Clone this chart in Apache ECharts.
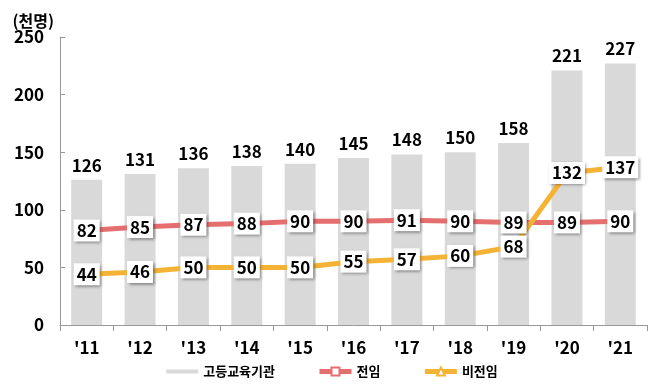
<!DOCTYPE html>
<html><head><meta charset="utf-8">
<script src="https://cdn.jsdelivr.net/npm/echarts@6/dist/echarts.min.js"></script>
<style>html,body{margin:0;padding:0;background:#fff}#c{width:664px;height:386px}</style>
</head><body><div id="c"></div>
<script>
const categories = ["'11","'12","'13","'14","'15","'16","'17","'18","'19","'20","'21"];
const totalValues = [126,131,136,138,140,145,148,150,158,221,227];
const fullTimeValues = [82,85,87,88,90,90,91,90,89,89,90];
const partTimeValues = [44,46,50,50,50,55,57,60,68,132,137];
const yTicks = [0,50,100,150,200,250];

const FONT = '"Noto Sans CJK KR", "Noto Sans", sans-serif';
const lineLabel = {
  show: true, position: 'inside', color: '#000', fontWeight: 'bold', fontSize: 17,
  fontFamily: FONT, backgroundColor: '#fff', padding: [0, 3, 0, 3], lineHeight: 22,
  shadowColor: 'rgba(0,0,0,0.45)', shadowBlur: 3, shadowOffsetX: 1.5, shadowOffsetY: 1.5
};
const chart = echarts.init(document.getElementById('c'), null, {renderer: 'canvas'});
chart.setOption({
  animation: false,
  textStyle: {fontFamily: FONT},
  grid: {left: 60, right: 17, top: 37, bottom: 61, containLabel: false},
  legend: {
    bottom: 3, left: 'center', itemGap: 42, itemWidth: 32, itemHeight: 10,
    textStyle: {fontSize: 13, color: '#000', fontWeight: 'bold', fontFamily: FONT},
    data: [
      {name: '고등교육기관', icon: 'path://M0,3H32V7H0Z', itemStyle: {color: '#d9d9d9'}},
      {name: '전임', lineStyle: {width: 5, color: '#e56e6e'}},
      {name: '비전임', lineStyle: {width: 5, color: '#f5b335'}}
    ]
  },
  xAxis: {
    type: 'category', data: categories,
    axisLine: {lineStyle: {color: '#999'}},
    axisTick: {show: true, length: 6, lineStyle: {color: '#999'}},
    axisLabel: {color: '#000', fontWeight: 'bold', fontSize: 17, margin: 14, fontFamily: FONT}
  },
  yAxis: {
    type: 'value', min: yTicks[0], max: yTicks[yTicks.length - 1], interval: 50,
    name: '(천명)', nameLocation: 'end', nameGap: 10,
    nameTextStyle: {color: '#000', fontWeight: 'bold', fontSize: 16, align: 'right', padding: [0, 6, -4, 0], fontFamily: FONT},
    axisLine: {show: true, lineStyle: {color: '#999'}},
    axisTick: {show: true, inside: true, length: 5, lineStyle: {color: '#999'}},
    splitLine: {show: false},
    axisLabel: {color: '#000', fontWeight: 'bold', fontSize: 17, margin: 16, fontFamily: FONT}
  },
  series: [
    {
      name: '고등교육기관', type: 'bar', data: totalValues, barWidth: '58%',
      itemStyle: {color: '#d9d9d9'},
      label: {show: true, position: 'top', distance: 6, color: '#000', fontWeight: 'bold', fontSize: 17, fontFamily: FONT},
      z: 1
    },
    {
      name: '전임', type: 'line', data: fullTimeValues,
      symbol: 'rect', symbolSize: 10,
      lineStyle: {color: '#e56e6e', width: 5},
      itemStyle: {color: '#fff', borderColor: '#e56e6e', borderWidth: 2},
      label: lineLabel, z: 3
    },
    {
      name: '비전임', type: 'line', data: partTimeValues,
      symbol: 'triangle', symbolSize: 10,
      lineStyle: {color: '#f5b335', width: 5},
      itemStyle: {color: '#fff', borderColor: '#f5b335', borderWidth: 2},
      label: lineLabel, z: 3
    }
  ]
});
</script></body></html>
